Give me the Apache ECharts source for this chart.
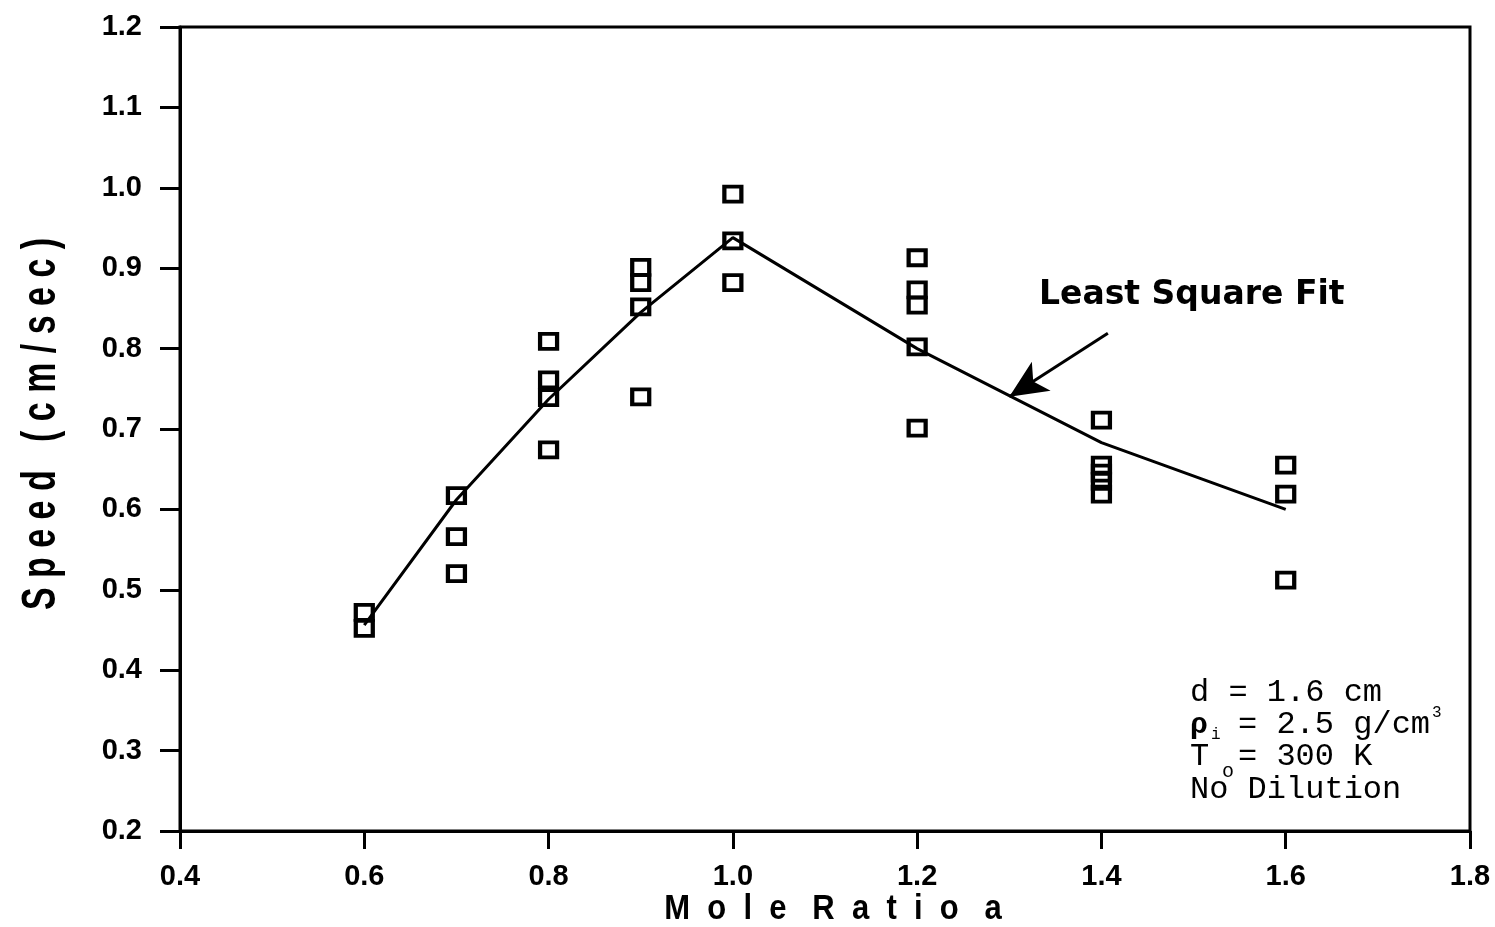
<!DOCTYPE html>
<html>
<head>
<meta charset="utf-8">
<script src="https://cdn.jsdelivr.net/npm/echarts@6/dist/echarts.min.js"></script>
<style>
  html, body { margin: 0; padding: 0; background: #fff; }
  #chart { width: 1495px; height: 927px; }
</style>
</head>
<body>
<div id="chart"></div>
<script>
// measured points (mole ratio, speed cm/sec)
const ratio06 = [0.472, 0.452];
const ratio07 = [0.617, 0.566, 0.520];
const ratio08 = [0.809, 0.761, 0.739, 0.674];
const ratio09 = [0.901, 0.882, 0.852, 0.740];
const ratio10 = [0.992, 0.934, 0.882];
const ratio12 = [0.913, 0.873, 0.854, 0.802, 0.701];
const ratio14 = [0.711, 0.655, 0.645, 0.635, 0.619];
const ratio16 = [0.655, 0.619, 0.512];

// least square fit
const fitX = [0.6, 0.7, 0.8, 0.9, 1.0, 1.2, 1.4, 1.6];
const fitY = [0.456, 0.612, 0.737, 0.845, 0.938, 0.800, 0.683, 0.600];

// arrow annotation (from / to)
const arrowFrom = [1.407, 0.819];
const arrowTo = [1.300, 0.740];

const groups = [
  [0.6, ratio06], [0.7, ratio07], [0.8, ratio08], [0.9, ratio09],
  [1.0, ratio10], [1.2, ratio12], [1.4, ratio14], [1.6, ratio16]
];
const scatterData = [];
groups.forEach(([x, ys]) => ys.forEach(y => scatterData.push([x, y])));

const sansFont = '"Liberation Sans", Arial, sans-serif';
const monoFont = '"Liberation Mono", "Courier New", monospace';

const chart = echarts.init(document.getElementById('chart'));

const option = {
  backgroundColor: '#fff',
  animation: false,
  grid: {
    left: 180, right: 25, top: 27, bottom: 96,
    outerBoundsMode: 'none',
    containLabel: false,
    show: true, borderColor: '#000', borderWidth: 3
  },
  xAxis: {
    type: 'value',
    min: 0.4, max: 1.8, interval: 0.2,
    splitLine: { show: false },
    axisLine: { lineStyle: { color: '#000', width: 3 } },
    axisTick: { inside: false, length: 18, lineStyle: { color: '#000', width: 3 } },
    axisLabel: {
      margin: 31, color: '#000', fontFamily: sansFont, fontWeight: 'bold', fontSize: 29,
      formatter: v => v.toFixed(1)
    }
  },
  yAxis: {
    type: 'value',
    min: 0.2, max: 1.2, interval: 0.1,
    splitLine: { show: false },
    axisLine: { lineStyle: { color: '#000', width: 3 } },
    axisTick: { inside: false, length: 20, lineStyle: { color: '#000', width: 3 } },
    axisLabel: {
      margin: 38, color: '#000', fontFamily: sansFont, fontWeight: 'bold', fontSize: 29,
      formatter: v => v.toFixed(1)
    }
  },
  series: [
    {
      name: 'fit',
      type: 'line',
      data: fitX.map((x, i) => [x, fitY[i]]),
      symbol: 'none',
      lineStyle: { color: '#000', width: 3 },
      z: 2,
      markLine: {
        silent: true,
        symbol: ['none', 'arrow'],
        symbolSize: [26, 38],
        label: { show: false },
        lineStyle: { color: '#000', width: 3, type: 'solid' },
        data: [[{ coord: arrowFrom }, { coord: arrowTo }]]
      }
    },
    {
      name: 'measured',
      type: 'scatter',
      data: scatterData,
      symbol: 'rect',
      symbolSize: [17, 15],
      itemStyle: { color: 'rgba(0,0,0,0)', borderColor: '#000', borderWidth: 4, opacity: 1 },
      z: 3
    }
  ],
  graphic: [
    // axis titles (stretched like the original lettering)
    {
      type: 'text', x: 42, y: 424, rotation: Math.PI / 2, scaleY: 1.4,
      style: {
        text: 'S p e e d   ( c m / s e c )', font: 'bold 34px ' + sansFont, fill: '#000',
        align: 'center', verticalAlign: 'middle'
      }
    },
    {
      type: 'text', x: 833, y: 909, scaleY: 1.15,
      style: {
        text: 'M  o  l  e   R  a  t  i  o   a', font: 'bold 31px ' + sansFont, fill: '#000',
        align: 'center', verticalAlign: 'middle'
      }
    },
    {
      type: 'text', left: 1039, top: 279,
      style: { text: 'Least Square Fit', font: 'bold 33px "DejaVu Sans", sans-serif', fill: '#000' }
    },
    { type: 'text', x: 1190, y: 693, style: { text: 'd = 1.6 cm', font: '32px ' + monoFont, fill: '#000', verticalAlign: 'middle' } },
    { type: 'text', x: 1190, y: 725, style: { text: 'ρ', font: 'bold 30px ' + monoFont, fill: '#000', verticalAlign: 'middle' } },
    { type: 'text', x: 1211, y: 735, style: { text: 'i', font: '16px ' + monoFont, fill: '#000', verticalAlign: 'middle' } },
    { type: 'text', x: 1238, y: 725, style: { text: '= 2.5 g/cm', font: '32px ' + monoFont, fill: '#000', verticalAlign: 'middle' } },
    { type: 'text', x: 1432, y: 713, style: { text: '3', font: '16px ' + monoFont, fill: '#000', verticalAlign: 'middle' } },
    { type: 'text', x: 1190, y: 757, style: { text: 'T', font: '32px ' + monoFont, fill: '#000', verticalAlign: 'middle' } },
    { type: 'text', x: 1222, y: 772, style: { text: 'o', font: '20px ' + monoFont, fill: '#000', verticalAlign: 'middle' } },
    { type: 'text', x: 1238, y: 757, style: { text: '= 300 K', font: '32px ' + monoFont, fill: '#000', verticalAlign: 'middle' } },
    { type: 'text', x: 1190, y: 790, style: { text: 'No Dilution', font: '32px ' + monoFont, fill: '#000', verticalAlign: 'middle' } }
  ]
};

chart.setOption(option);
window.addEventListener('resize', () => chart.resize());
</script>
</body>
</html>
